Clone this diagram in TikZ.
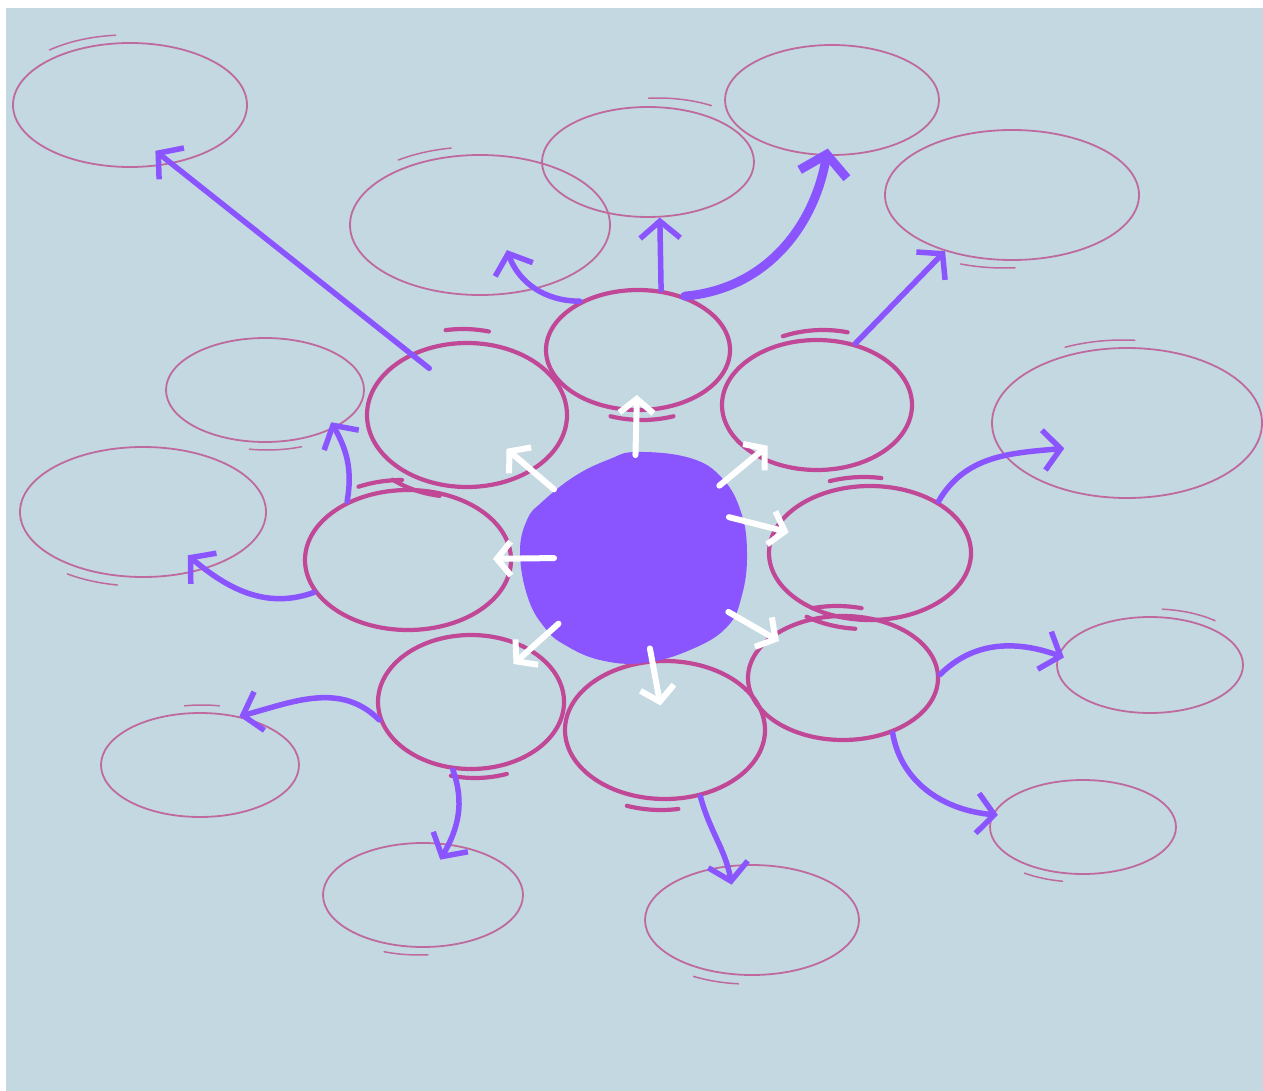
\documentclass[tikz,border=0pt]{standalone}
\usepackage{tikz}
\usetikzlibrary{arrows.meta,calc,shapes.geometric}
\definecolor{bgblue}{HTML}{C4D8E2}
\definecolor{blobpurple}{HTML}{8A55FF}
\definecolor{innermag}{HTML}{C04896}
\definecolor{outerpink}{HTML}{BF6A9E}
\tikzset{
  inell/.style={ellipse, draw=innermag, line width=4.2pt, inner sep=0pt},
  outell/.style={ellipse, draw=outerpink, line width=1.8pt, inner sep=0pt},
  intail/.style={draw=innermag, line width=4.2pt},
  outtail/.style={draw=outerpink, line width=1.5pt},
  parr/.style={draw=blobpurple, line width=5.5pt, -{Straight Barb[length=17pt,width=40pt]}},
  warr/.style={draw=white, line width=6pt, -{Straight Barb[length=14pt,width=34pt]}},
  every picture/.style={line cap=round, line join=round}
}

\begin{document}
\begin{tikzpicture}[x=1pt,y=1pt]
  \useasboundingbox (0,0) rectangle (1263,-1091);
  \fill[white] (0,0) rectangle (1263,-1091);
  \fill[bgblue] (6,-8) rectangle (1263,-1091);

  % outer ring
  \node[outell, minimum width=234, minimum height=124] (oA) at (130,-105) {};
  \node[outell, minimum width=260, minimum height=140] (oB) at (480,-225) {};
  \node[outell, minimum width=212, minimum height=110] (oC) at (648,-162) {};
  \node[outell, minimum width=214, minimum height=110] (oD) at (832,-100) {};
  \node[outell, minimum width=254, minimum height=130] (oE) at (1012,-195) {};
  \node[outell, minimum width=270, minimum height=150] (oF) at (1127,-423) {};
  \node[outell, minimum width=186, minimum height=96] (oG) at (1150,-665) {};
  \node[outell, minimum width=186, minimum height=94] (oH) at (1083,-827) {};
  \node[outell, minimum width=214, minimum height=110] (oI) at (752,-920) {};
  \node[outell, minimum width=200, minimum height=104] (oJ) at (423,-895) {};
  \node[outell, minimum width=198, minimum height=104] (oK) at (200,-765) {};
  \node[outell, minimum width=246, minimum height=130] (oL) at (143,-512) {};
  \node[outell, minimum width=198, minimum height=104] (oM) at (265,-390) {};

  \draw[outtail] ([shift={(-4,6)}]oA.center) ++(95:119 and 64) arc[start angle=95, end angle=130, x radius=119, y radius=64];
  \draw[outtail] ([shift={(-6,6)}]oB.center) ++(100:132 and 72) arc[start angle=100, end angle=125, x radius=132, y radius=72];
  \draw[outtail] ([shift={(10,7)}]oC.center) ++(60:107 and 57) arc[start angle=60, end angle=95, x radius=107, y radius=57];
  \draw[outtail] ([shift={(-8,-6)}]oE.center) ++(-85:127 and 67) arc[start angle=-85, end angle=-110, x radius=127, y radius=67];
  \draw[outtail] ([shift={(-4,6)}]oF.center) ++(85:137 and 77) arc[start angle=85, end angle=115, x radius=137, y radius=77];
  \draw[outtail] ([shift={(4,6)}]oG.center) ++(50:95 and 50) arc[start angle=50, end angle=85, x radius=95, y radius=50];
  \draw[outtail] ([shift={(-4,-6)}]oH.center) ++(-100:95 and 49) arc[start angle=-100, end angle=-125, x radius=95, y radius=49];
  \draw[outtail] ([shift={(-4,-7)}]oI.center) ++(-95:109 and 57) arc[start angle=-95, end angle=-120, x radius=109, y radius=57];
  \draw[outtail] ([shift={(-4,-6)}]oJ.center) ++(-85:102 and 54) arc[start angle=-85, end angle=-110, x radius=102, y radius=54];
  \draw[outtail] ([shift={(2,6)}]oK.center) ++(80:100 and 54) arc[start angle=80, end angle=100, x radius=100, y radius=54];
  \draw[outtail] ([shift={(-4,-7)}]oL.center) ++(-100:125 and 67) arc[start angle=-100, end angle=-125, x radius=125, y radius=67];
  \draw[outtail] ([shift={(2,-6)}]oM.center) ++(-70:101 and 54) arc[start angle=-70, end angle=-100, x radius=101, y radius=54];

  % inner ring
  \node[inell, minimum width=184, minimum height=120] (in1) at (638,-350) {};
  \node[inell, minimum width=200, minimum height=144] (in2) at (467,-415) {};
  \node[inell, minimum width=190, minimum height=130] (in3) at (817,-405) {};
  \node[inell, minimum width=202, minimum height=134] (in4) at (870,-553) {};
  \node[inell, minimum width=190, minimum height=124] (in5) at (843,-678) {};
  \node[inell, minimum width=200, minimum height=138] (in6) at (665,-730) {};
  \node[inell, minimum width=186, minimum height=134] (in7) at (471,-702) {};
  \node[inell, minimum width=206, minimum height=140] (in8) at (408,-560) {};

  \draw[intail] ([shift={(4,-8)}]in1.center) ++(-70:92 and 62) arc[start angle=-70, end angle=-110, x radius=92, y radius=62];
  \draw[intail] ([shift={(-4,12)}]in2.center) ++(75:100 and 74) arc[start angle=75, end angle=100, x radius=100, y radius=74];
  \draw[intail] ([shift={(-10,-8)}]in2.center) ++(-100:100 and 74) arc[start angle=-100, end angle=-130, x radius=100, y radius=74];
  \draw[intail] ([shift={(6,8)}]in3.center) ++(75:95 and 67) arc[start angle=75, end angle=115, x radius=95, y radius=67];
  \draw[intail] ([shift={(-6,8)}]in4.center) ++(80:100 and 68) arc[start angle=80, end angle=110, x radius=100, y radius=68];
  \draw[intail] ([shift={(-6,-8)}]in4.center) ++(-95:100 and 68) arc[start angle=-95, end angle=-125, x radius=100, y radius=68];
  \draw[intail] ([shift={(-6,8)}]in5.center) ++(75:95 and 64) arc[start angle=75, end angle=105, x radius=95, y radius=64];
  \draw[intail] ([shift={(-4,-10)}]in6.center) ++(-80:100 and 70) arc[start angle=-80, end angle=-110, x radius=100, y radius=70];
  \draw[intail] ([shift={(4,-8)}]in7.center) ++(-70:93 and 68) arc[start angle=-70, end angle=-105, x radius=93, y radius=68];
  \draw[intail] ([shift={(-6,8)}]in8.center) ++(90:103 and 72) arc[start angle=90, end angle=115, x radius=103, y radius=72];

  % centre blob
  \fill[blobpurple] plot[smooth cycle, tension=0.7] coordinates {
    (637,-452) (690,-458) (722,-478) (741,-512) (747,-553) (742,-595) (727,-627)
    (690,-650) (643,-663) (600,-660) (565,-645) (545,-628) (528,-598) (520,-553)
    (527,-520) (542,-502) (575,-476) (610,-459)};
  \coordinate (hub) at (633,-557);
  \coordinate (hubr) at (634,-493);

  % purple arrows to outer ring
  \draw[parr] ($(in2.center)!0.73!(in2.129)$) -- ($(oA.center)!0.76!(oA.-61)$);
  \draw[parr] (in1.140) to[out=180,in=-70] ($(oB.center)!0.41!(oB.-43)$);
  \draw[parr] (in1.69) -- (oC.-78);
  \draw[parr, line width=9pt, -{Straight Barb[length=20pt,width=48pt]}] (in1.49) to[out=5,in=-100] ($(oD.center)!0.87!(oD.-95)$);
  \draw[parr] (in3.58) -- (oE.-140);
  \draw[parr] (in4.37) to[out=60,in=185] ($(oF.center)!0.57!(oF.-158)$);
  \draw[parr] (in5.2) to[out=45,in=160] ($(oG.center)!0.93!(oG.175)$);
  \draw[parr] (in5.-48) to[out=-80,in=175] ($(oH.center)!0.94!(oH.172)$);
  \draw[parr] (in6.-62) to[out=-75,in=100] ($(oI.center)!0.66!(oI.120)$);
  \draw[parr] (in7.-105) to[out=-70,in=60] ($(oJ.center)!0.69!(oJ.64)$);
  \draw[parr] (in7.-169) to[out=135,in=15] (oK.51);
  \draw[parr] (in8.-161) to[out=200,in=-40] ($(oL.center)!0.75!(oL.-44)$);
  \draw[parr] (in8.136) to[out=80,in=-60] ($(oM.center)!0.9!(oM.-26)$);

  % white arrows out of the blob
  \draw[warr, shorten <=102pt, shorten >=45pt] (hub) -- (in1.center);
  \draw[warr, shorten <=104pt, shorten >=52pt] (hub) -- (in2.center);
  \draw[warr, shorten <=112pt, shorten >=64pt] (hub) -- (in3.center);
  \draw[warr, shorten <=98pt, shorten >=84pt] (hubr) -- (in4.center);
  \draw[warr, shorten <=110pt, shorten >=74pt] (hub) -- (in5.center);
  \draw[warr, shorten <=93pt, shorten >=25pt] (hub) -- (in6.center);
  \draw[warr, shorten <=100pt, shorten >=57pt] (hub) -- (in7.center);
  \draw[warr, shorten <=79pt, shorten >=85pt] (hub) -- (in8.center);
\end{tikzpicture}
\end{document}
